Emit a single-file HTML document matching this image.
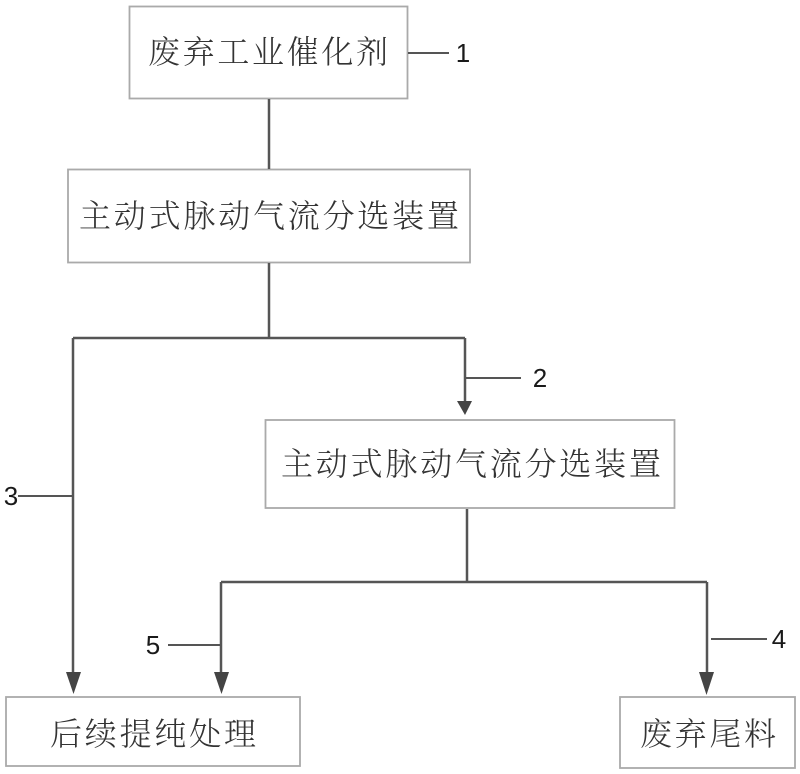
<!DOCTYPE html>
<html><head><meta charset="utf-8"><style>
html,body{margin:0;padding:0;background:#fff}
svg{display:block}
.t{font-family:"Liberation Serif","Noto Serif CJK SC",serif;font-size:32px;fill:#333;font-weight:300}
.n{font-family:"Liberation Sans","DejaVu Sans",sans-serif;font-size:26px;fill:#1a1a1a;text-anchor:middle}
.b{fill:#fff;stroke:#aaa;stroke-width:1.800}
.l{stroke:#555;stroke-width:2.500;fill:none}
.a{fill:#444}
</style></head><body>
<svg width="800" height="774" viewBox="0 0 800 774" xmlns="http://www.w3.org/2000/svg">
<rect width="800" height="774" fill="#fff"/>
<rect class="b" x="129.500" y="6.500" width="278" height="92"/>
<rect class="b" x="68" y="169.500" width="402" height="93"/>
<rect class="b" x="265.500" y="420" width="409" height="88"/>
<rect class="b" x="6" y="697" width="294" height="69"/>
<rect class="b" x="620" y="697" width="175" height="71"/>
<path class="l" d="M269 99V169M269 263V338M73 338H465M73 338V680M465 338V406M467 509V582M221 582H707M221 582V680M707 582V682"/>
<path class="l" style="stroke-width:2" d="M408 53H449M466 378H521M18 496H73M168 645H221M711 639H767"/>
<path class="a" d="M66 672H81L73.500 694ZM214 672H229L221.500 694ZM699 672H714L706.500 695ZM457 401H472L465 415Z"/>
<g class="t" style="filter:blur(.3px)">
<text x="148" y="63" textLength="240" lengthAdjust="spacing">废弃工业催化剂</text>
<text x="79" y="227" textLength="380" lengthAdjust="spacing">主动式脉动气流分选装置</text>
<text x="281" y="475" textLength="380" lengthAdjust="spacing">主动式脉动气流分选装置</text>
<text x="50" y="745" textLength="206" lengthAdjust="spacing">后续提纯处理</text>
<text x="640" y="745" textLength="136" lengthAdjust="spacing">废弃尾料</text>
</g>
<text class="n" x="463" y="62">1</text>
<text class="n" x="540" y="387">2</text>
<text class="n" x="11" y="505">3</text>
<text class="n" x="779" y="648">4</text>
<text class="n" x="153" y="654">5</text>
</svg>
</body></html>
